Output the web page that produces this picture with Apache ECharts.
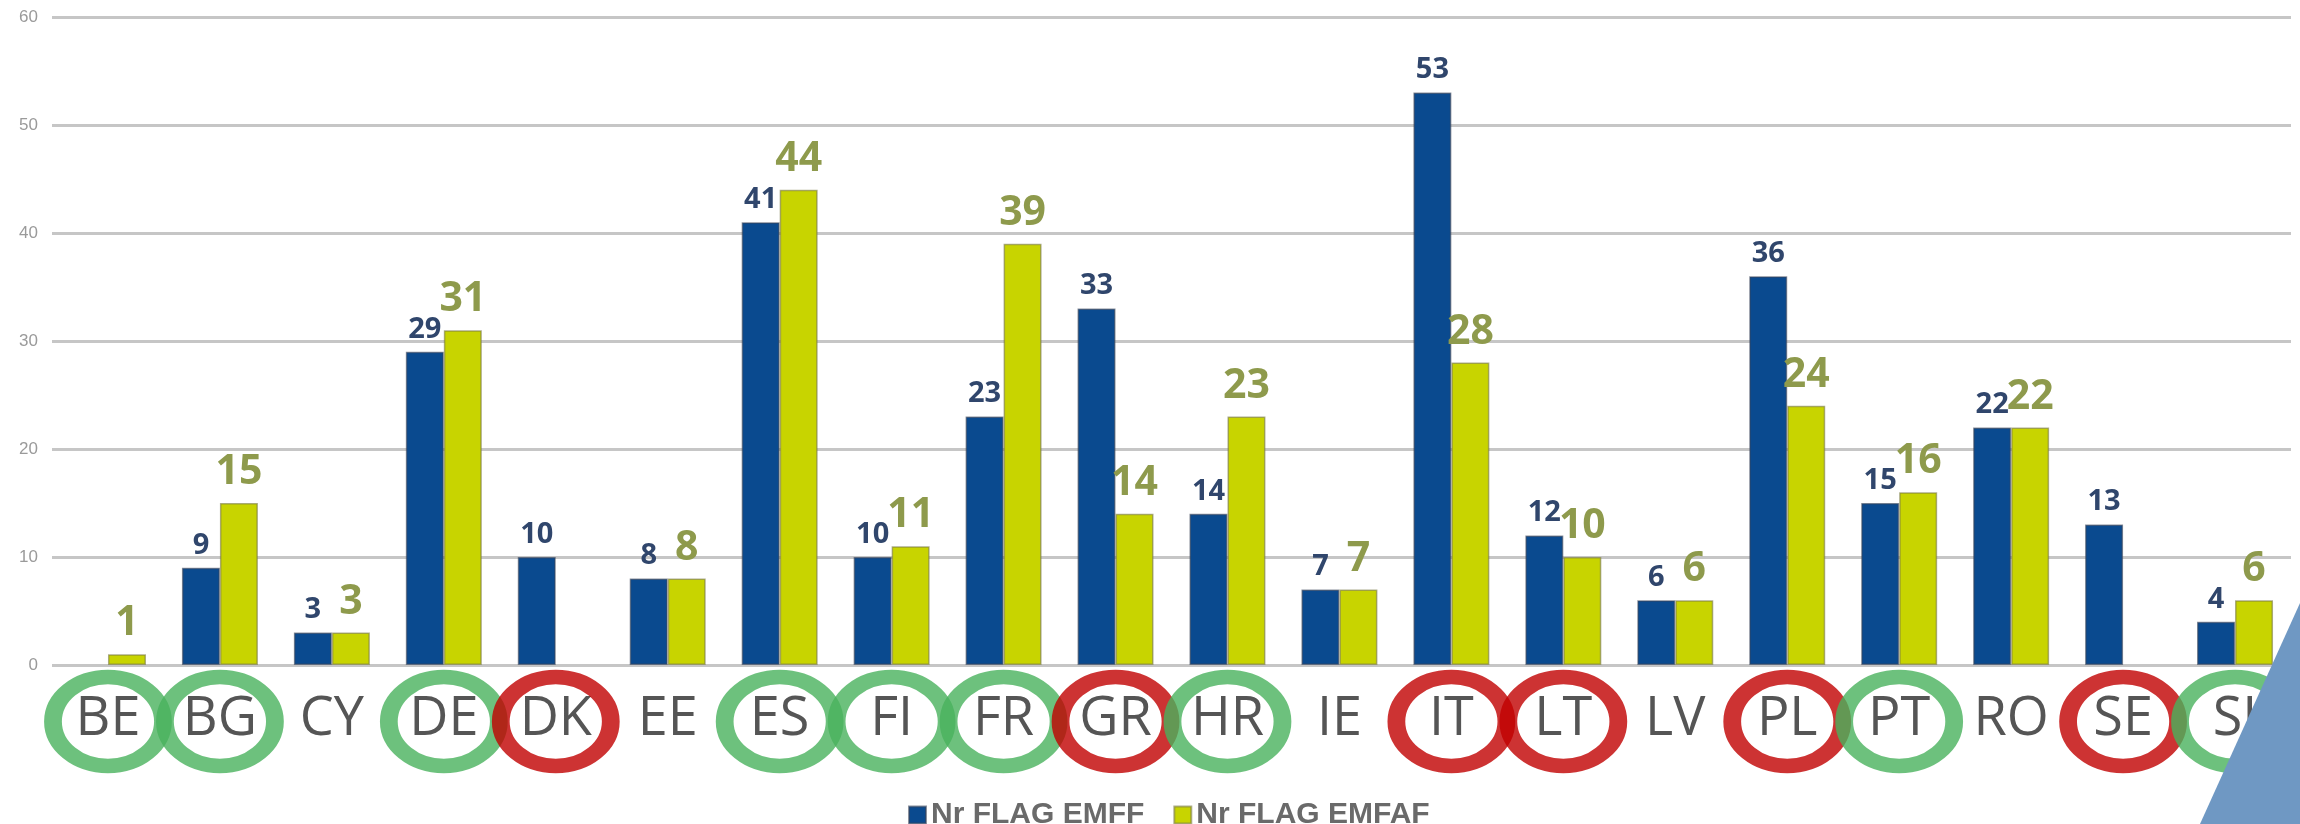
<!DOCTYPE html>
<html>
<head>
<meta charset="utf-8">
<script src="https://cdn.jsdelivr.net/npm/echarts@6/dist/echarts.min.js"></script>
<style>
  html, body { margin: 0; padding: 0; background: #fff; }
  #chart { width: 2300px; height: 824px; }
</style>
</head>
<body>
<div id="chart"></div>
<script>
// country codes on the x axis
const categories = ['BE', 'BG', 'CY', 'DE', 'DK', 'EE', 'ES', 'FI', 'FR', 'GR',
  'HR', 'IE', 'IT', 'LT', 'LV', 'PL', 'PT', 'RO', 'SE', 'SI'];

// Nr FLAG EMFF (blue)
const emff = [null, 9, 3, 29, 10, 8, 41, 10, 23, 33, 14, 7, 53, 12, 6, 36, 15, 22, 13, 4];
// Nr FLAG EMFAF (yellow)
const emfaf = [1, 15, 3, 31, null, 8, 44, 11, 39, 14, 23, 7, 28, 10, 6, 24, 16, 22, null, 6];

// rings drawn round the labels: g = green, r = red, null = none
const rings = ['g', 'g', null, 'g', 'r', null, 'g', 'g', 'g', 'r',
  'g', null, 'r', 'r', null, 'r', 'g', null, 'r', 'g'];

const yTicks = [0, 10, 20, 30, 40, 50, 60];

const ringColor = { g: '#48b25c', r: '#c00000' };
const ellipse = 'path://M50,0 C77.6,0 100,22.4 100,50 C100,77.6 77.6,100 50,100 C22.4,100 0,77.6 0,50 C0,22.4 22.4,0 50,0 Z';

const chart = echarts.init(document.getElementById('chart'));

const option = {
  backgroundColor: '#fff',
  animation: false,
  grid: [
    { left: 52, right: 9, top: 17, bottom: 159 },
    { left: 52, right: 9, top: 669, height: 105 }
  ],
  legend: {
    left: 903,
    top: 795,
    itemWidth: 17,
    itemHeight: 17,
    itemGap: 29,
    icon: 'rect',
    textStyle: {
      fontFamily: 'Liberation Sans',
      fontSize: 30,
      fontWeight: 'bold',
      color: '#6a6a6a'
    },
    data: ['Nr FLAG EMFF', 'Nr FLAG EMFAF']
  },
  xAxis: [
    {
      type: 'category',
      gridIndex: 0,
      data: categories,
      axisLine: { show: false },
      axisTick: { show: false },
      axisLabel: {
        margin: 55,
        verticalAlign: 'middle',
        fontFamily: 'Open Sans',
        fontSize: 54,
        color: '#555555',
        interval: 0
      }
    },
    {
      type: 'category',
      gridIndex: 1,
      data: categories,
      show: false
    }
  ],
  yAxis: [
    {
      type: 'value',
      gridIndex: 0,
      min: yTicks[0],
      max: yTicks[yTicks.length - 1],
      interval: 10,
      axisLine: { show: false },
      axisTick: { show: false },
      axisLabel: {
        margin: 14,
        fontFamily: 'Liberation Sans',
        fontSize: 17,
        color: '#9a9a9a'
      },
      splitLine: { lineStyle: { color: '#c6c6c6', width: 3 } }
    },
    { type: 'value', gridIndex: 1, min: 0, max: 1, show: false }
  ],
  series: [
    {
      name: 'Nr FLAG EMFF',
      type: 'bar',
      xAxisIndex: 0,
      yAxisIndex: 0,
      data: emff,
      barWidth: 38,
      barGap: '0%',
      itemStyle: { color: '#0a4a8f', borderColor: 'rgba(60,70,90,0.6)', borderWidth: 1.5 },
      label: {
        show: true,
        position: 'top',
        distance: 8,
        fontFamily: 'Open Sans',
        fontWeight: 'bold',
        fontSize: 29,
        color: '#30466c'
      }
    },
    {
      name: 'Nr FLAG EMFAF',
      type: 'bar',
      xAxisIndex: 0,
      yAxisIndex: 0,
      data: emfaf,
      barWidth: 38,
      itemStyle: { color: '#c8d400', borderColor: 'rgba(120,120,70,0.6)', borderWidth: 1.5 },
      label: {
        show: true,
        position: 'top',
        distance: 10,
        fontFamily: 'Open Sans',
        fontWeight: 'bold',
        fontSize: 41,
        color: '#8e9a4c'
      }
    },
    {
      type: 'scatter',
      xAxisIndex: 1,
      yAxisIndex: 1,
      symbol: ellipse,
      symbolSize: [110, 89],
      silent: true,
      z: 5,
      data: categories
        .map((c, i) => rings[i] ? {
          value: [c, 0.5],
          itemStyle: { color: 'transparent', borderColor: ringColor[rings[i]], borderWidth: 16 }
        } : null)
        .filter(d => d)
    }
  ],
  graphic: [
    {
      type: 'polygon',
      z: 100,
      shape: { points: [[2300, 603], [2300, 824], [2200, 824]] },
      style: { fill: '#6f98c3' }
    }
  ]
};

chart.setOption(option);
</script>
</body>
</html>
